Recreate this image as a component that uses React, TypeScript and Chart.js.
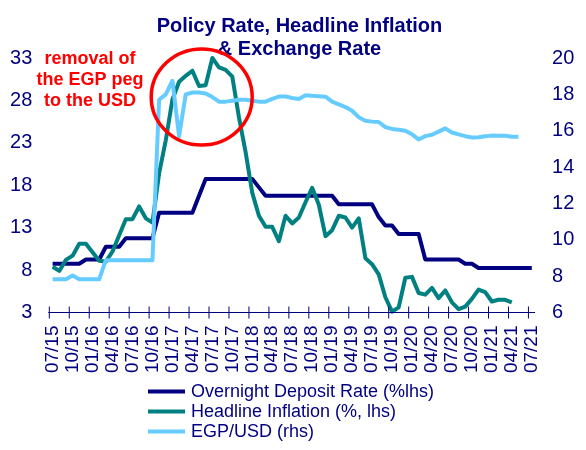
import { useEffect, useRef } from 'react';
import { Chart, registerables } from 'chart.js';

Chart.register(...registerables);

const MONTHS = [
  '07/15', '08/15', '09/15', '10/15', '11/15', '12/15',
  '01/16', '02/16', '03/16', '04/16', '05/16', '06/16', '07/16', '08/16', '09/16', '10/16', '11/16', '12/16',
  '01/17', '02/17', '03/17', '04/17', '05/17', '06/17', '07/17', '08/17', '09/17', '10/17', '11/17', '12/17',
  '01/18', '02/18', '03/18', '04/18', '05/18', '06/18', '07/18', '08/18', '09/18', '10/18', '11/18', '12/18',
  '01/19', '02/19', '03/19', '04/19', '05/19', '06/19', '07/19', '08/19', '09/19', '10/19', '11/19', '12/19',
  '01/20', '02/20', '03/20', '04/20', '05/20', '06/20', '07/20', '08/20', '09/20', '10/20', '11/20', '12/20',
  '01/21', '02/21', '03/21', '04/21', '05/21', '06/21', '07/21',
];

const TICK_LABELS = [
  '07/15', '10/15', '01/16', '04/16', '07/16', '10/16', '01/17', '04/17', '07/17', '10/17',
  '01/18', '04/18', '07/18', '10/18', '01/19', '04/19', '07/19', '10/19', '01/20', '04/20',
  '07/20', '10/20', '01/21', '04/21', '07/21',
];

const DEPOSIT_RATE = [
  8.75, 8.75, 8.75, 8.75, 8.75, 9.25, 9.25, 9.25, 10.75, 10.75,
  10.75, 11.75, 11.75, 11.75, 11.75, 11.75, 14.75, 14.75, 14.75, 14.75,
  14.75, 14.75, 16.75, 18.75, 18.75, 18.75, 18.75, 18.75, 18.75, 18.75,
  18.75, 17.75, 16.75, 16.75, 16.75, 16.75, 16.75, 16.75, 16.75, 16.75,
  16.75, 16.75, 16.75, 15.75, 15.75, 15.75, 15.75, 15.75, 15.75, 14.25,
  13.25, 13.25, 12.25, 12.25, 12.25, 12.25, 9.25, 9.25, 9.25, 9.25,
  9.25, 9.25, 8.75, 8.75, 8.25, 8.25, 8.25, 8.25, 8.25, 8.25,
  8.25, 8.25, 8.25,
];

const HEADLINE_INFLATION = [
  8.4, 7.9, 9.2, 9.7, 11.1, 11.1, 10.1, 9.1, 9.0, 10.2,
  12.1, 14.0, 14.0, 15.5, 14.1, 13.6, 19.4, 23.3, 28.1, 30.2,
  30.9, 31.5, 29.7, 29.8, 33.0, 31.9, 31.6, 30.8, 26.0, 21.9,
  17.1, 14.4, 13.1, 13.1, 11.4, 14.4, 13.5, 14.2, 16.0, 17.7,
  15.7, 12.0, 12.7, 14.4, 14.2, 13.0, 14.1, 9.4, 8.7, 7.5,
  4.8, 3.1, 3.6, 7.1, 7.2, 5.3, 5.1, 5.9, 4.7, 5.6,
  4.2, 3.4, 3.7, 4.6, 5.7, 5.4, 4.3, 4.5, 4.5, 4.2,
];

const EGP_USD = [
  7.83, 7.83, 7.83, 8.03, 7.83, 7.83, 7.83, 7.83, 8.88, 8.88,
  8.88, 8.88, 8.88, 8.88, 8.88, 8.88, 17.7, 18.0, 18.75, 15.7,
  18.0, 18.1, 18.1, 18.05, 17.85, 17.6, 17.6, 17.65, 17.7, 17.7,
  17.65, 17.6, 17.6, 17.75, 17.88, 17.88, 17.8, 17.74, 17.95, 17.92,
  17.9, 17.87, 17.6, 17.45, 17.3, 17.1, 16.74, 16.55, 16.5, 16.48,
  16.2, 16.1, 16.05, 16.0, 15.8, 15.52, 15.7, 15.78, 15.95, 16.13,
  15.9, 15.8, 15.7, 15.63, 15.64, 15.7, 15.73, 15.72, 15.72, 15.67,
  15.67,
];

const SERIES_LABELS = ['Overnight Deposit Rate (%lhs)', 'Headline Inflation (%, lhs)', 'EGP/USD (rhs)'];
const SERIES_COLORS = ['#000080', '#008080', '#66CCFF'];
const TITLE_LINES = ['Policy Rate, Headline Inflation', '& Exchange Rate'];
const NOTE_LINES = ['removal of', 'the EGP peg', 'to the USD'];

const FONT = "'Liberation Sans', Arial, sans-serif";
const NAVY = '#000080';

const decorPlugin = {
  id: 'decor',
  afterDraw(chart: any) {
    const { ctx, chartArea, scales } = chart;
    const xs = scales.x;
    ctx.save();

    // x axis line and crossing tick marks
    ctx.strokeStyle = NAVY;
    ctx.lineWidth = 1;
    ctx.beginPath();
    ctx.moveTo(chartArea.left - 1, chartArea.bottom);
    ctx.lineTo(chartArea.right, chartArea.bottom);
    ctx.stroke();
    const half = (xs.getPixelForValue(1) - xs.getPixelForValue(0)) / 2;
    MONTHS.forEach((m, i) => {
      if (!TICK_LABELS.includes(m)) return;
      const px = xs.getPixelForValue(i) - half;
      ctx.beginPath();
      ctx.moveTo(px, chartArea.bottom - 6);
      ctx.lineTo(px, chartArea.bottom + 6);
      ctx.stroke();
    });

    // title
    ctx.fillStyle = NAVY;
    ctx.font = `bold 20px ${FONT}`;
    ctx.textAlign = 'center';
    ctx.textBaseline = 'alphabetic';
    ctx.fillText(TITLE_LINES[0], 299.5, 31.5);
    ctx.fillText(TITLE_LINES[1], 299.5, 55);

    // annotation text
    ctx.fillStyle = '#FF0000';
    ctx.font = `bold 18px ${FONT}`;
    NOTE_LINES.forEach((t, k) => ctx.fillText(t, 90, 63.5 + k * 21));

    // annotation circle around the peg removal
    const cx = xs.getPixelForValue(22.4);
    const cy = scales.y.getPixelForValue(28.4);
    ctx.strokeStyle = '#FF0000';
    ctx.lineWidth = 3.5;
    ctx.beginPath();
    ctx.ellipse(cx, cy, 50.5, 48, 0, 0, Math.PI * 2);
    ctx.stroke();

    // legend
    ctx.font = `18px ${FONT}`;
    ctx.textAlign = 'left';
    ctx.textBaseline = 'middle';
    chart.data.datasets.forEach((ds: any, k: number) => {
      const yy = 391.5 + k * 20;
      ctx.strokeStyle = ds.borderColor;
      ctx.lineWidth = 4;
      ctx.beginPath();
      ctx.moveTo(148, yy);
      ctx.lineTo(185, yy);
      ctx.stroke();
      ctx.fillStyle = NAVY;
      ctx.fillText(ds.label, 191, yy + 1);
    });
    ctx.restore();
  },
};

export default function App() {
  const ref = useRef<HTMLCanvasElement>(null);
  useEffect(() => {
    if (!ref.current) return;
    const common = {
      borderWidth: 4,
      pointRadius: 0,
      tension: 0,
      borderJoinStyle: 'round' as const,
      clip: false as const,
      fill: false,
    };
    const chart = new Chart(ref.current, {
      type: 'line',
      data: {
        labels: MONTHS,
        datasets: [
          { ...common, label: SERIES_LABELS[0], data: DEPOSIT_RATE, borderColor: SERIES_COLORS[0], yAxisID: 'y', order: 2 },
          { ...common, label: SERIES_LABELS[1], data: HEADLINE_INFLATION, borderColor: SERIES_COLORS[1], yAxisID: 'y', order: 1 },
          { ...common, label: SERIES_LABELS[2], data: EGP_USD, borderColor: SERIES_COLORS[2], yAxisID: 'y1', order: 0 },
        ],
      },
      options: {
        responsive: false,
        animation: false,
        events: [],
        layout: { padding: { top: 58, left: 0, right: 0, bottom: 0 } },
        plugins: { legend: { display: false }, title: { display: false }, tooltip: { enabled: false } },
        scales: {
          x: {
            type: 'category',
            offset: true,
            grid: { display: false, drawTicks: false, tickLength: 0, offset: true },
            border: { display: false },
            ticks: {
              autoSkip: false,
              minRotation: 90,
              maxRotation: 90,
              padding: 13,
              color: NAVY,
              font: { family: FONT, size: 19 },
              callback: (_v: any, i: number) => (TICK_LABELS.includes(MONTHS[i]) ? MONTHS[i] : ''),
            },
            afterFit: (s: any) => { s.height = 137.5; },
          },
          y: {
            position: 'left',
            min: 3,
            max: 33,
            grid: { display: false, drawTicks: false },
            border: { display: false },
            ticks: { stepSize: 5, padding: 17, color: NAVY, font: { family: FONT, size: 20 } },
            afterFit: (s: any) => { s.width = 49.3; },
          },
          y1: {
            position: 'right',
            min: 6,
            max: 20,
            grid: { display: false, drawTicks: false },
            border: { display: false },
            ticks: { stepSize: 2, padding: 17, color: NAVY, font: { family: FONT, size: 20 } },
            afterFit: (s: any) => { s.width = 50.9; },
          },
        },
      },
      plugins: [decorPlugin],
    });
    return () => chart.destroy();
  }, []);

  return (
    <div style={{ position: 'absolute', left: 0, top: 0, width: 586, height: 450, background: '#fff' }}>
      <canvas ref={ref} width={586} height={450} />
    </div>
  );
}
